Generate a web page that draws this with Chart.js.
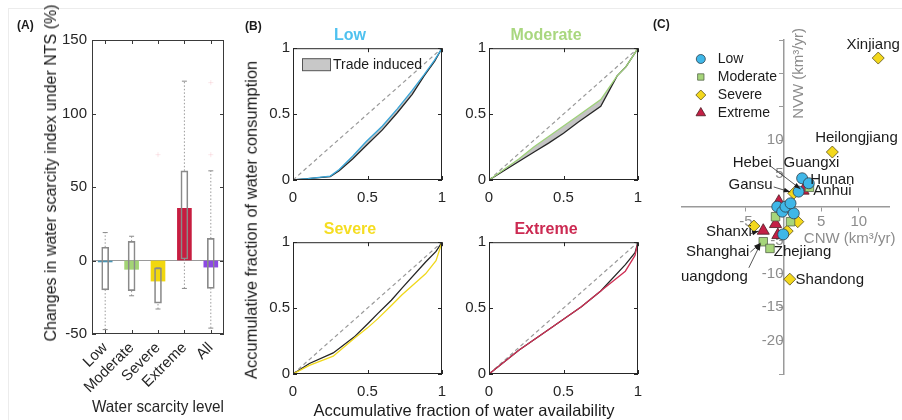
<!DOCTYPE html>
<html>
<head>
<meta charset="utf-8">
<title>Water scarcity under NTS</title>
<script src="https://cdn.jsdelivr.net/npm/chart.js@4.4.1/dist/chart.umd.min.js"></script>
<style>
  html, body { margin: 0; padding: 0; background: #ffffff; }
  body { position: relative; width: 902px; height: 420px; overflow: hidden;
         font-family: Arial, "Liberation Sans", Helvetica, sans-serif; color: #1b1b1b; }
  canvas { position: absolute; }
  .txt { position: absolute; white-space: nowrap; line-height: 1; }
  .panel { font-size: 12px; font-weight: bold; }
  .vtitle { transform: translate(-50%, -50%) rotate(-90deg); }
  .htitle { transform: translate(-50%, -50%); }
  .edge { position: absolute; left: 8px; top: 8px; right: 0; bottom: 0;
          border-left: 1px solid #ececec; border-top: 1px solid #ececec; }
</style>
</head>
<body>
<div class="edge"></div>
<canvas id="panelA" width="240" height="420" style="left:0;top:0"></canvas>
<canvas id="lowCurve" width="219" height="188" style="left:258px;top:20px"></canvas>
<canvas id="moderateCurve" width="219" height="188" style="left:454px;top:20px"></canvas>
<canvas id="severeCurve" width="219" height="188" style="left:258px;top:214px"></canvas>
<canvas id="extremeCurve" width="219" height="188" style="left:454px;top:214px"></canvas>
<canvas id="panelC" width="228" height="420" style="left:674px;top:0;clip-path:inset(0 0 0 6px)"></canvas>

<div class="txt panel" style="left:17px;top:19px">(A)</div>
<div class="txt panel" style="left:245px;top:20px">(B)</div>
<div class="txt panel" style="left:653px;top:18px">(C)</div>
<div class="txt vtitle" style="left:51px;top:173px;font-size:16px">Changes in water scarcity index under NTS (%)</div>
<div class="txt vtitle" style="left:251px;top:220px;font-size:16.5px">Accumulative fraction of water consumption</div>
<div class="txt htitle" style="left:464px;top:410px;font-size:16.5px">Accumulative fraction of water availability</div>

<script>
// ---- panel A: change in water scarcity index per scarcity level ----
const levels = ['Low', 'Moderate', 'Severe', 'Extreme', 'All'];
const meanChange = [-1, -6, -14, 35.5, -4.5];
const boxLow = [-20, -20.5, -29, 1, -19];
const boxHigh = [9, 13, -5, 61, 15];
const whiskerMin = [-47, -24, -33, -19, -46];
const whiskerMax = [19, 16.5, -5, 122, 61];
const outlierLevel = ['Severe', 'All', 'All'];
const outlierValue = [72, 72, 121];

// ---- panel B: accumulative curves (x: water availability, y: consumption) ----
const lowX = [0, 0.1, 0.25, 0.31, 0.4, 0.49, 0.6, 0.7, 0.8, 0.88, 0.95, 1];
const lowNTS = [0, 0.01, 0.025, 0.07, 0.16, 0.26, 0.38, 0.51, 0.65, 0.79, 0.9, 1];
const lowTrade = [0, 0.01, 0.03, 0.08, 0.18, 0.29, 0.41, 0.54, 0.68, 0.8, 0.91, 1];

const moderateX = [0, 0.1, 0.2, 0.3, 0.4, 0.5, 0.6, 0.75, 0.86, 0.92, 1];
const moderateNTS = [0, 0.07, 0.14, 0.21, 0.28, 0.355, 0.44, 0.56, 0.79, 0.86, 1];
const moderateTrade = [0, 0.08, 0.16, 0.25, 0.33, 0.41, 0.49, 0.61, 0.79, 0.86, 1];

const severeX = [0, 0.11, 0.27, 0.41, 0.5, 0.57, 0.66, 0.73, 0.89, 0.96, 1];
const severeNTS = [0, 0.08, 0.16, 0.28, 0.38, 0.46, 0.56, 0.65, 0.85, 0.93, 1];
const severeTrade = [0, 0.065, 0.135, 0.27, 0.35, 0.42, 0.52, 0.6, 0.76, 0.86, 1];

const extremeX = [0, 0.2, 0.43, 0.62, 0.75, 0.915, 0.98, 1];
const extremeNTS = [0, 0.18, 0.36, 0.51, 0.63, 0.83, 0.92, 1];
const extremeTrade = [0, 0.18, 0.36, 0.51, 0.63, 0.78, 0.9, 1];

// ---- panel C: provinces, CNW vs NVW (km3/yr) ----
const lowCNW = [2.47, 3.35, 2.0, -0.83, -0.17, 0.26, 1.36, -0.04, 0.93];
const lowNVW = [4.3, 3.55, 2.3, 0.05, -0.7, 0.05, -0.95, -4.1, 0.55];
const moderateCNW = [3.44, 0.93, -1.06, 0.93, -2.69, -1.8, 0.7];
const moderateNVW = [2.95, 0.3, -1.45, -2.2, -5.2, -6.2, 0.15];
const severeCNW = [12.57, 6.48, 0.83, 1.36, 1.89, -3.93, 0.49];
const severeNVW = [22.3, 8.23, -10.8, 2.05, -2.2, -2.85, -3.6];
const extremeCNW = [2.6, -0.62, -1.06, -2.69, -0.75];
const extremeNVW = [2.45, 0.8, -2.55, -3.55, -4.2];

// label placement for panel C, in data units
const provinceNotes = [
    { name: 'Xinjiang', at: [11.9, 24.25], align: 'center' },
    { name: 'Heilongjiang', at: [4.2, 10.3], align: 'left' },
    { name: 'Hebei', at: [-6.75, 6.6], align: 'left', from: [-1.7, 6.1], to: [2.25, 2.7] },
    { name: 'Guangxi', at: [0, 6.6], align: 'left' },
    { name: 'Hunan', at: [3.55, 4.05], align: 'left' },
    { name: 'Anhui', at: [3.95, 2.4], align: 'left' },
    { name: 'Gansu', at: [-7.3, 3.3], align: 'left', from: [-1.3, 3.0], to: [0.9, 2.25] },
    { name: 'Shanxi', at: [-10.3, -3.75], align: 'left', from: [-4.4, -4.0], to: [-3.3, -3.6] },
    { name: 'Shanghai', at: [-12.95, -6.75], align: 'left', from: [-4.4, -6.75], to: [-3.05, -5.4] },
    { name: 'Zhejiang', at: [-1.3, -6.75], align: 'left' },
    { name: 'Guangdong', at: [-4.75, -10.5], align: 'right', from: [-4.6, -9.1], to: [-3.05, -5.5] },
    { name: 'Shandong', at: [1.6, -10.95], align: 'left' },
];

const FONT = 'Arial, "Liberation Sans", Helvetica, sans-serif';
Chart.defaults.font.family = FONT;
Chart.defaults.animation = false;
Chart.defaults.color = '#262626';
Chart.defaults.plugins.legend.display = false;
Chart.defaults.plugins.tooltip.enabled = false;

// MATLAB-like box around the plot with inward ticks on all four sides
const framePlugin = {
    id: 'frame',
    afterDraw(chart, args, opts) {
        const { ctx, chartArea: a, scales } = chart;
        const len = opts.tick || 4;
        ctx.save();
        ctx.strokeStyle = opts.color || '#262626';
        ctx.lineWidth = 1;
        ctx.strokeRect(a.left + 0.5, a.top + 0.5, a.right - a.left - 1, a.bottom - a.top - 1);
        ctx.beginPath();
        scales.x.ticks.forEach((t, i) => {
            const px = Math.round(scales.x.getPixelForTick(i)) + 0.5;
            ctx.moveTo(px, a.bottom); ctx.lineTo(px, a.bottom - len);
            ctx.moveTo(px, a.top); ctx.lineTo(px, a.top + len);
        });
        scales.y.ticks.forEach((t, i) => {
            const py = Math.round(scales.y.getPixelForTick(i)) + 0.5;
            ctx.moveTo(a.left, py); ctx.lineTo(a.left + len, py);
            ctx.moveTo(a.right, py); ctx.lineTo(a.right - len, py);
        });
        ctx.stroke();
        ctx.restore();
    }
};

const tradeKeyPlugin = {
    id: 'tradeKey',
    afterDraw(chart, args, opts) {
        if (!opts.text) return;
        const { ctx, chartArea: a } = chart;
        ctx.save();
        ctx.fillStyle = '#c8c8c8';
        ctx.strokeStyle = '#555555';
        ctx.lineWidth = 1;
        ctx.fillRect(a.left + 9.5, a.top + 10.5, 28, 12);
        ctx.strokeRect(a.left + 9.5, a.top + 10.5, 28, 12);
        ctx.fillStyle = '#1b1b1b';
        ctx.font = '14px ' + FONT;
        ctx.textBaseline = 'middle';
        ctx.fillText(opts.text, a.left + 40, a.top + 16.5);
        ctx.restore();
    }
};

// ---------- panel A ----------
const whiskerPoints = [];
levels.forEach((lvl, i) => {
    whiskerPoints.push(
        { x: lvl, y: whiskerMin[i] }, { x: lvl, y: boxLow[i] }, { x: lvl, y: null },
        { x: lvl, y: boxHigh[i] }, { x: lvl, y: whiskerMax[i] }, { x: lvl, y: null }
    );
});

new Chart(document.getElementById('panelA'), {
    type: 'bar',
    data: {
        labels: levels,
        datasets: [
            {
                label: 'Outliers',
                type: 'line',
                showLine: false,
                data: outlierLevel.map((lvl, i) => ({ x: lvl, y: outlierValue[i] })),
                pointStyle: 'cross',
                pointRadius: 2.5,
                borderColor: 'rgba(235, 120, 140, 0.18)',
                borderWidth: 1,
                order: 0
            },
            {
                label: 'Box',
                data: boxLow.map((v, i) => [v, boxHigh[i]]),
                backgroundColor: 'rgba(0,0,0,0)',
                borderColor: '#8a8a8a',
                borderWidth: 1,
                borderSkipped: false,
                barThickness: 7,
                grouped: false,
                order: 1
            },
            {
                label: 'Whiskers',
                type: 'line',
                data: whiskerPoints,
                borderColor: '#9a9a9a',
                borderWidth: 1,
                borderDash: [1.5, 2],
                spanGaps: false,
                pointStyle: 'line',
                pointRadius: ctx => (ctx.index % 6 === 0 || ctx.index % 6 === 4) ? 2.5 : 0,
                pointBorderColor: '#8a8a8a',
                pointBorderWidth: 1,
                order: 2
            },
            {
                label: 'Mean change',
                data: meanChange,
                backgroundColor: ['#4a95b4', '#a3d475', '#f1d70f', '#c71d40', '#8c49e3'],
                borderWidth: 0,
                barThickness: 14,
                grouped: false,
                order: 3
            }
        ]
    },
    options: {
        responsive: false,
        layout: { padding: { left: 40, right: 16, top: 40, bottom: 2 } },
        plugins: { frame: { color: '#3a3a3a' } },
        scales: {
            x: {
                offset: true,
                grid: { display: false, drawTicks: false },
                border: { display: false },
                ticks: { autoSkip: false, minRotation: 45, maxRotation: 45, padding: 5, font: { size: 15 }, color: '#262626' },
                title: { display: true, text: 'Water scarcity level', font: { size: 16.5 }, color: '#262626', padding: { top: 0, bottom: 1 } },
                afterFit(scale) { scale.height = 84; }
            },
            y: {
                min: -50,
                max: 150,
                ticks: { stepSize: 50, padding: 5, font: { size: 15 }, color: '#262626' },
                grid: { drawTicks: false, color: c => c.tick && c.tick.value === 0 ? '#9a9a9a' : 'rgba(0,0,0,0)' },
                border: { display: false },
                afterFit(scale) { scale.width = 52; }
            }
        }
    },
    plugins: [framePlugin]
});

// ---------- panel B ----------
function createCurveChart(canvasId, title, titleColor, lineColor, xs, nts, trade, keyText) {
    new Chart(document.getElementById(canvasId), {
        type: 'line',
        data: {
            datasets: [
                {
                    label: 'Equality',
                    data: [{ x: 0, y: 0 }, { x: 1, y: 1 }],
                    borderColor: '#9a9a9a',
                    borderWidth: 1.2,
                    borderDash: [4, 3],
                    pointRadius: 0,
                    order: 2
                },
                {
                    label: 'NTS',
                    data: xs.map((x, i) => ({ x, y: nts[i] })),
                    borderColor: '#262626',
                    borderWidth: 1.3,
                    pointRadius: 0,
                    order: 1
                },
                {
                    label: 'Trade',
                    data: xs.map((x, i) => ({ x, y: trade[i] })),
                    borderColor: lineColor,
                    borderWidth: 1.3,
                    pointRadius: 0,
                    fill: { target: 1, above: 'rgba(175,175,175,0.75)', below: 'rgba(0,0,0,0)' },
                    order: 0
                }
            ]
        },
        options: {
            responsive: false,
            layout: { padding: { left: 0, right: 35, top: 0, bottom: 0 } },
            plugins: {
                filler: { drawTime: 'beforeDatasetsDraw' },
                title: { display: true, text: title, color: titleColor, font: { size: 16, weight: 'bold' }, padding: { top: 6, bottom: 3 } },
                frame: {},
                tradeKey: { text: keyText }
            },
            scales: {
                x: {
                    type: 'linear', min: 0, max: 1,
                    ticks: { stepSize: 0.5, padding: 9, font: { size: 15 }, color: '#262626', callback: v => String(v) },
                    grid: { display: false, drawTicks: false },
                    border: { display: false },
                    afterFit(scale) { scale.height = 28; }
                },
                y: {
                    type: 'linear', min: 0, max: 1,
                    ticks: { stepSize: 0.5, padding: 3, font: { size: 15 }, color: '#262626', callback: v => String(v) },
                    grid: { display: false, drawTicks: false },
                    border: { display: false },
                    afterFit(scale) { scale.width = 35; }
                }
            }
        },
        plugins: [framePlugin, tradeKeyPlugin]
    });
}

createCurveChart('lowCurve', 'Low', '#4fc1ef', '#3aa6d9', lowX, lowNTS, lowTrade, 'Trade induced');
createCurveChart('moderateCurve', 'Moderate', '#a9d77f', '#9fd27a', moderateX, moderateNTS, moderateTrade, '');
createCurveChart('severeCurve', 'Severe', '#f5dd22', '#f0d81c', severeX, severeNTS, severeTrade, '');
createCurveChart('extremeCurve', 'Extreme', '#cc2a52', '#cf3055', extremeX, extremeNTS, extremeTrade, '');

// ---------- panel C ----------
function drawArrow(ctx, x1, y1, x2, y2) {
    const ang = Math.atan2(y2 - y1, x2 - x1);
    ctx.beginPath();
    ctx.moveTo(x1, y1);
    ctx.lineTo(x2, y2);
    ctx.stroke();
    ctx.beginPath();
    ctx.moveTo(x2, y2);
    ctx.lineTo(x2 - 7 * Math.cos(ang - 0.35), y2 - 7 * Math.sin(ang - 0.35));
    ctx.lineTo(x2 - 7 * Math.cos(ang + 0.35), y2 - 7 * Math.sin(ang + 0.35));
    ctx.closePath();
    ctx.fill();
}

const scatterNotesPlugin = {
    id: 'scatterNotes',
    afterDatasetsDraw(chart) {
        const { ctx, chartArea: a, scales: { x, y } } = chart;
        ctx.save();
        ctx.font = '15px ' + FONT;
        ctx.textBaseline = 'middle';
        ctx.fillStyle = '#1b1b1b';
        ctx.strokeStyle = '#2b2b2b';
        ctx.lineWidth = 0.8;
        provinceNotes.forEach(n => {
            ctx.textAlign = n.align;
            ctx.fillText(n.name, x.getPixelForValue(n.at[0]), y.getPixelForValue(n.at[1]));
            if (n.from) {
                drawArrow(ctx, x.getPixelForValue(n.from[0]), y.getPixelForValue(n.from[1]),
                    x.getPixelForValue(n.to[0]), y.getPixelForValue(n.to[1]));
            }
        });

        // axis titles
        ctx.fillStyle = '#8c8c8c';
        ctx.textAlign = 'left';
        ctx.fillText('CNW (km³/yr)', x.getPixelForValue(2.7), y.getPixelForValue(-4.8));
        ctx.save();
        ctx.translate(x.getPixelForValue(0) + 15, y.getPixelForValue(20));
        ctx.rotate(-Math.PI / 2);
        ctx.textAlign = 'center';
        ctx.fillText('NVW (km³/yr)', 0, 0);
        ctx.restore();

        // legend
        ctx.font = '14px ' + FONT;
        ctx.textAlign = 'left';
        chart.data.datasets.forEach((ds, i) => {
            const lx = a.left + 19;
            const ly = a.top + 19 + 18 * i;
            ctx.fillStyle = ds.backgroundColor;
            ctx.strokeStyle = ds.borderColor;
            ctx.lineWidth = 0.8;
            Chart.helpers.drawPoint(ctx, { pointStyle: ds.pointStyle, radius: ds.legendRadius, borderWidth: 0.8, rotation: 0 }, lx, ly);
            ctx.fillStyle = '#1b1b1b';
            ctx.fillText(ds.label, lx + 17, ly);
        });
        ctx.restore();
    }
};

const toPoints = (xs, ys) => xs.map((v, i) => ({ x: v, y: ys[i] }));

new Chart(document.getElementById('panelC'), {
    type: 'scatter',
    data: {
        datasets: [
            { label: 'Low', data: toPoints(lowCNW, lowNVW), pointStyle: 'circle', pointRadius: 5.5, legendRadius: 4.5,
              backgroundColor: '#3fb7e8', borderColor: '#2f3f4a', borderWidth: 0.8 },
            { label: 'Moderate', data: toPoints(moderateCNW, moderateNVW), pointStyle: 'rect', pointRadius: 6, legendRadius: 4.5,
              backgroundColor: '#a6d57a', borderColor: '#55654a', borderWidth: 0.8 },
            { label: 'Severe', data: toPoints(severeCNW, severeNVW), pointStyle: 'rectRot', pointRadius: 6, legendRadius: 5,
              backgroundColor: '#f3d81c', borderColor: '#5a5020', borderWidth: 0.8 },
            { label: 'Extreme', data: toPoints(extremeCNW, extremeNVW), pointStyle: 'triangle', pointRadius: 7, legendRadius: 5.5,
              backgroundColor: '#c41f45', borderColor: '#4a1a22', borderWidth: 0.8 }
        ]
    },
    options: {
        responsive: false,
        layout: { padding: { left: 1, right: 13, top: 40, bottom: 46 } },
        scales: {
            x: {
                type: 'linear', min: -13.5, max: 14,
                position: { y: 0 },
                afterBuildTicks(scale) { scale.ticks = scale.ticks.filter(t => t.value % 5 === 0); },
                ticks: { stepSize: 5, padding: 2, font: { size: 15 }, color: '#8c8c8c',
                         callback: v => (v === 0 ? '' : String(v)) },
                grid: { drawOnChartArea: false, color: '#9a9a9a', tickLength: 4 },
                border: { color: '#9a9a9a', width: 1.5 }
            },
            y: {
                type: 'linear', min: -25, max: 25,
                position: { x: 0 },
                ticks: { stepSize: 5, padding: 2, font: { size: 15 }, color: '#8c8c8c',
                         callback: v => (v === 0 || v >= 15 || v <= -25 ? '' : String(v)) },
                grid: { drawOnChartArea: false, color: '#9a9a9a', tickLength: 4 },
                border: { color: '#9a9a9a', width: 1.5 }
            }
        }
    },
    plugins: [scatterNotesPlugin]
});
</script>
</body>
</html>
